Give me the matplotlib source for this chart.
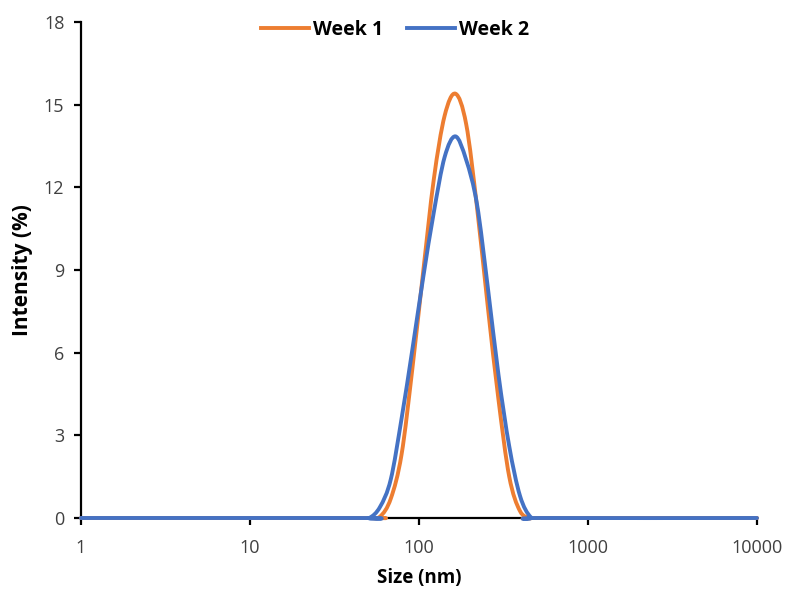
import numpy as np
import matplotlib
matplotlib.use('agg')
import matplotlib.pyplot as plt
from matplotlib.path import Path
from matplotlib.patches import PathPatch
from matplotlib.lines import Line2D

plt.rcParams['font.family'] = ['Open Sans', 'DejaVu Sans']

# DLS size bins (nm) and intensity (%)
size_nm = [1, 43.82, 50.75, 58.77, 68.06, 78.82, 91.28, 105.7, 122.4, 141.8,
           164.2, 190.1, 220.2, 255.0, 295.3, 342.0, 396.1, 458.7, 531.2, 10000]
week1 = [0, 0, 0, 0.05, 0.7, 2.3, 5.4, 8.9, 12.3, 14.6,
         15.4, 14.3, 11.3, 7.7, 4.3, 1.5, 0.25, 0, 0, 0]
week2 = [0, 0, 0, 0.4, 1.4, 3.6, 6.1, 8.7, 11.1, 13.1,
         13.85, 13.0, 11.4, 8.4, 5.2, 2.6, 0.8, 0.03, 0, 0]

series = [("Week 1", week1, "#ED7D31"), ("Week 2", week2, "#4472C4")]
y_ticks = [0, 3, 6, 9, 12, 15, 18]
x_ticks = [1, 10, 100, 1000, 10000]


def smooth_path(x, y):
    # Excel-style smoothed line: Catmull-Rom -> cubic Bezier in (log x, y)
    lx = np.log10(x)
    y = np.asarray(y, float)
    pts = np.column_stack([lx, y])
    n = len(pts)
    verts = [pts[0]]
    codes = [Path.MOVETO]
    for i in range(n - 1):
        p0 = pts[max(i - 1, 0)]
        p1 = pts[i]
        p2 = pts[i + 1]
        p3 = pts[min(i + 2, n - 1)]
        c1 = p1 + (p2 - p0) / 6.0
        c2 = p2 - (p3 - p1) / 6.0
        verts += [c1, c2, p2]
        codes += [Path.CURVE4] * 3
    verts = np.array(verts)
    verts[:, 0] = 10 ** verts[:, 0]
    return Path(verts, codes)


fig = plt.figure(figsize=(7.85, 5.9), dpi=100)
ax = fig.add_axes([81/785, 1-518/590, 676/785, 496/590])
ax.set_xscale('log')
ax.set_xlim(1, 10000)
ax.set_ylim(0, 18)

handles = []
for name, vals, col in series:
    patch = PathPatch(smooth_path(size_nm, vals), facecolor='none', edgecolor=col,
                      lw=2.8, capstyle='round', joinstyle='round', zorder=3)
    patch.set_clip_on(False)
    ax.add_patch(patch)
    handles.append(Line2D([], [], color=col, lw=2.8, label=name))

ax.set_xticks(x_ticks)
ax.set_xticklabels([str(t) for t in x_ticks])
ax.minorticks_off()
ax.set_yticks(y_ticks)
ax.set_yticklabels([str(t) for t in y_ticks])
for s in ['top', 'right']:
    ax.spines[s].set_visible(False)
for s in ['left', 'bottom']:
    ax.spines[s].set_linewidth(1.6)
    ax.spines[s].set_zorder(2)
ax.tick_params(which='major', direction='out', length=5, width=1.6,
               labelsize=13, colors='#000000', labelcolor='#404040', pad=7)
ax.tick_params(axis='x', pad=10)

ax.set_xlabel("Size (nm)", fontsize=13.5, fontweight='bold', labelpad=8)
ax.set_ylabel("Intensity (%)", fontsize=15, fontweight='bold', labelpad=8)

fig.legend(handles=handles, loc='center', bbox_to_anchor=(395/785, 1-30/590),
           ncol=2, frameon=False, handlelength=2.5, handletextpad=0.2,
           columnspacing=1.2, prop={'weight': 'bold', 'size': 14})

fig.savefig("out.png", dpi=100)
